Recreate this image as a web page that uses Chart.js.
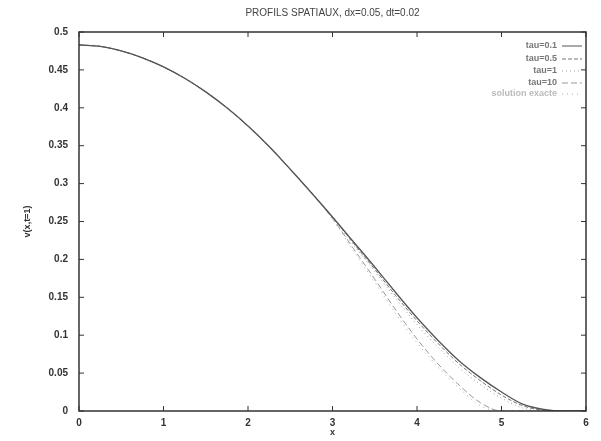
<!DOCTYPE html>
<html>
<head>
<meta charset="utf-8">
<script src="https://cdn.jsdelivr.net/npm/chart.js@4"></script>
<style>
  html, body { margin: 0; padding: 0; background: #fff; }
  #wrap { width: 601px; height: 441px; }
</style>
</head>
<body>
<div id="wrap"><canvas id="c" width="601" height="441"></canvas></div>
<script>
// x positions of the sampled profiles
const xs = [0, 0.25, 0.5, 0.75, 1, 1.25, 1.5, 1.75, 2, 2.25, 2.5, 2.75, 3,
  3.25, 3.5, 3.75, 4, 4.25, 4.5, 4.75, 5, 5.25, 5.5, 5.75, 6];

const tau01 = [0.483, 0.481, 0.475, 0.466, 0.454, 0.439, 0.421, 0.400, 0.376, 0.349, 0.319, 0.288, 0.256,
  0.223, 0.190, 0.156, 0.123, 0.093, 0.066, 0.044, 0.025, 0.009, 0.002, 0, 0];
const tau05 = [0.483, 0.481, 0.475, 0.466, 0.454, 0.439, 0.421, 0.400, 0.376, 0.349, 0.319, 0.288, 0.256,
  0.221, 0.187, 0.152, 0.119, 0.089, 0.062, 0.040, 0.021, 0.007, 0.001, 0, 0];
const tau1 = [0.483, 0.481, 0.475, 0.466, 0.454, 0.439, 0.421, 0.400, 0.376, 0.349, 0.319, 0.288, 0.255,
  0.219, 0.184, 0.148, 0.114, 0.084, 0.057, 0.035, 0.017, 0.004, 0, 0, 0];
const tau10 = [0.483, 0.481, 0.475, 0.466, 0.454, 0.439, 0.421, 0.400, 0.376, 0.349, 0.319, 0.288, 0.254,
  0.214, 0.174, 0.133, 0.095, 0.062, 0.034, 0.011, 0, 0, 0, 0, 0];
const exacte = [0.483, 0.481, 0.475, 0.466, 0.454, 0.439, 0.421, 0.400, 0.376, 0.349, 0.319, 0.288, 0.253,
  0.211, 0.170, 0.128, 0.090, 0.058, 0.030, 0.007, 0, 0, 0, 0, 0];

const labels = ['tau=0.1', 'tau=0.5', 'tau=1', 'tau=10', 'solution exacte'];
const xTicks = [0, 1, 2, 3, 4, 5, 6];
const yTicks = [0, 0.05, 0.1, 0.15, 0.2, 0.25, 0.3, 0.35, 0.4, 0.45, 0.5];

const styles = [
  { color: '#555', dash: [] },
  { color: '#777', dash: [4, 2] },
  { color: '#999', dash: [1, 3] },
  { color: '#999', dash: [6, 3] },
  { color: '#aaa', dash: [1, 4] }
];

const series = [tau01, tau05, tau1, tau10, exacte];

const datasets = series.map((vals, i) => ({
  label: labels[i],
  data: xs.map((x, j) => ({ x, y: vals[j] })),
  borderColor: styles[i].color,
  borderDash: styles[i].dash,
  borderWidth: i === 0 ? 1.3 : 1,
  pointRadius: 0,
  cubicInterpolationMode: 'monotone',
  fill: false
}));

// gnuplot-style frame, inward ticks, title and key
const gnuFrame = {
  id: 'gnuFrame',
  afterDraw(chart) {
    const { ctx, chartArea: a, scales } = chart;
    ctx.save();
    ctx.strokeStyle = '#333';
    ctx.lineWidth = 1.5;
    ctx.setLineDash([]);
    ctx.strokeRect(a.left, a.top, a.right - a.left, a.bottom - a.top);
    ctx.lineWidth = 1;
    xTicks.forEach(v => {
      const px = scales.x.getPixelForValue(v);
      ctx.beginPath();
      ctx.moveTo(px, a.bottom); ctx.lineTo(px, a.bottom - 5);
      ctx.moveTo(px, a.top); ctx.lineTo(px, a.top + 5);
      ctx.stroke();
    });
    yTicks.forEach(v => {
      const py = scales.y.getPixelForValue(v);
      ctx.beginPath();
      ctx.moveTo(a.left, py); ctx.lineTo(a.left + 5, py);
      ctx.moveTo(a.right, py); ctx.lineTo(a.right - 5, py);
      ctx.stroke();
    });

    ctx.fillStyle = '#444';
    ctx.font = '10px "Liberation Sans", Arial, sans-serif';
    ctx.textAlign = 'center';
    ctx.textBaseline = 'middle';
    ctx.fillText('PROFILS SPATIAUX, dx=0.05, dt=0.02', (a.left + a.right) / 2, 13);

    ctx.font = 'bold 9px "Liberation Sans", Arial, sans-serif';
    ctx.textAlign = 'right';
    const rows = [46, 59, 71, 83, 94];
    labels.forEach((t, i) => {
      ctx.fillStyle = i === 4 ? '#bbb' : '#777';
      ctx.fillText(t, 557, rows[i]);
      ctx.strokeStyle = styles[i].color;
      ctx.setLineDash(styles[i].dash);
      ctx.beginPath();
      ctx.moveTo(562, rows[i]); ctx.lineTo(582, rows[i]);
      ctx.stroke();
    });
    ctx.restore();
  }
};

new Chart(document.getElementById('c'), {
  type: 'line',
  data: { datasets },
  options: {
    responsive: false,
    animation: false,
    layout: { padding: { top: 32, right: 15, left: 0, bottom: 0 } },
    plugins: { legend: { display: false }, title: { display: false }, tooltip: { enabled: false } },
    scales: {
      x: {
        type: 'linear', min: 0, max: 6,
        afterFit: s => { s.height = 30; },
        afterBuildTicks: s => { s.ticks = xTicks.map(v => ({ value: v })); },
        grid: { display: false, drawTicks: false },
        border: { display: false },
        ticks: { color: '#333', padding: 6, font: { size: 10, weight: 'bold', family: '"Liberation Sans", Arial' } },
        title: { display: true, text: 'x', color: '#333', padding: { top: 0, bottom: 3 },
          font: { size: 9, weight: 'bold', family: '"Liberation Sans", Arial' } }
      },
      y: {
        type: 'linear', min: 0, max: 0.5,
        afterFit: s => { s.width = 79; },
        afterBuildTicks: s => { s.ticks = yTicks.map(v => ({ value: v })); },
        grid: { display: false, drawTicks: false },
        border: { display: false },
        ticks: { color: '#333', padding: 11, font: { size: 10, weight: 'bold', family: '"Liberation Sans", Arial' },
          callback: v => String(parseFloat(v.toFixed(2))) },
        title: { display: true, text: 'v(x,t=1)', color: '#333', padding: { top: 22, bottom: 0 },
          font: { size: 9, weight: 'bold', family: '"Liberation Sans", Arial' } }
      }
    }
  },
  plugins: [gnuFrame]
});
</script>
</body>
</html>
